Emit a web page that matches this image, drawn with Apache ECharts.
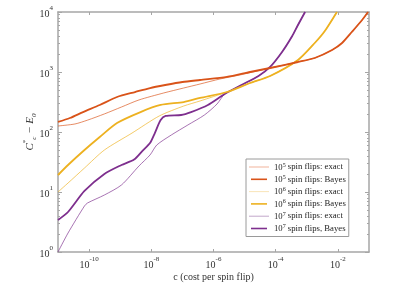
<!DOCTYPE html>
<html>
<head>
<meta charset="utf-8">
<script src="https://cdn.jsdelivr.net/npm/echarts@6/dist/echarts.min.js"></script>
<style>
  html, body { margin: 0; padding: 0; background: #fff; }
  #chart { width: 415px; height: 300px; }
</style>
</head>
<body>
<div id="chart"></div>
<script>
  // cost per spin flip (x) and C*_c - E0 (y)
  var red_bayes_x = [1e-11, 2.4e-11, 6.4e-11, 2.2e-10, 7.9e-10, 3.0e-9, 9.1e-9, 2.8e-8, 1.0e-7, 3.7e-7, 2.7e-6, 1.5e-5, 6.6e-5, 5.2e-4, 1.8e-3, 6.5e-3, 1.36e-2, 2.8e-2, 6.0e-2, 9.3e-2];
  var red_bayes_y = [147, 171, 215, 282, 383, 464, 541, 607, 681, 736, 826, 1000, 1166, 1468, 1711, 2326, 3043, 4642, 7356, 10000];
  var red_exact_x = [1e-11, 3.5e-11, 9.0e-11, 3.1e-10, 1.1e-9, 4.0e-9, 2.5e-8, 1.1e-7, 3.7e-7, 1.6e-6, 7.0e-6, 6.6e-5, 5.2e-4, 1.8e-3, 6.5e-3, 1.36e-2, 2.8e-2, 6.0e-2, 9.3e-2];
  var red_exact_y = [126, 136, 158, 200, 261, 342, 447, 541, 631, 764, 891, 1166, 1468, 1711, 2326, 3043, 4642, 7356, 10000];
  var yel_bayes_x = [1e-11, 2.1e-11, 7.1e-11, 2.2e-10, 7.9e-10, 4.5e-9, 2.0e-8, 1.1e-7, 3.7e-7, 2.7e-6, 1.5e-5, 6.6e-5, 5.2e-4, 1.8e-3, 3.8e-3, 9.3e-3];
  var yel_bayes_y = [19.2, 28.2, 50.1, 82.5, 141, 215, 282, 316, 369, 464, 656, 858, 1585, 3043, 4822, 10000];
  var yel_exact_x = [1e-11, 2.1e-11, 7.1e-11, 3.1e-10, 2.4e-9, 1.8e-8, 1.1e-7, 3.7e-7, 2.7e-6, 1.5e-5, 6.6e-5, 5.2e-4, 1.8e-3, 3.8e-3, 9.3e-3];
  var yel_exact_y = [10, 14.1, 25.1, 50.1, 96, 185, 271, 329, 464, 656, 858, 1585, 3043, 4822, 10000];
  var pur_bayes_x = [1e-11, 2.1e-11, 7.1e-11, 3.1e-10, 1.1e-9, 2.8e-9, 5.5e-9, 9.1e-9, 1.3e-8, 2.0e-8, 2.9e-8, 9.1e-8, 1.9e-7, 6.6e-7, 2.3e-6, 7.9e-6, 2.8e-5, 6.6e-5, 1.6e-4, 3.4e-4, 5.2e-4, 8.8e-4];
  var pur_bayes_y = [3.42, 4.64, 10.4, 20.0, 28.2, 34.8, 50.1, 65.6, 96.2, 158, 185, 192, 215, 282, 430, 607, 858, 1212, 2154, 3981, 6067, 10000];
  var pur_exact_x = [1e-11, 2.1e-11, 7.1e-11, 8.9e-11, 3.1e-10, 1.1e-9, 4.0e-9, 9.1e-9, 1.5e-8, 4.4e-8, 1.5e-7, 5.1e-7, 1.3e-6, 2.3e-6, 7.9e-6, 2.8e-5, 6.6e-5, 1.6e-4, 3.4e-4, 5.2e-4, 8.8e-4];
  var pur_exact_y = [1, 2.07, 5.85, 6.56, 8.91, 13.1, 27.1, 41.4, 60.7, 89.1, 131, 192, 293, 430, 607, 858, 1212, 2154, 3981, 6067, 10000];

  var x_ticks = [1e-10, 1e-8, 1e-6, 1e-4, 1e-2];
  var y_ticks = [1, 10, 100, 1000, 10000];
  var y_minor = [];
  for (var d = 1; d < 10000; d *= 10) {
    for (var k = 2; k < 10; k++) y_minor.push(k * d);
  }

  var series_names = ['10^5 exact', '10^5 Bayes', '10^6 exact', '10^6 Bayes', '10^7 exact', '10^7 Bayes'];
  var legend_text = {
    '10^5 exact': '{b|10}{s|5} spin flips: exact',
    '10^5 Bayes': '{b|10}{s|5} spin flips: Bayes',
    '10^6 exact': '{b|10}{s|6} spin flips: exact',
    '10^6 Bayes': '{b|10}{s|6} spin flips: Bayes',
    '10^7 exact': '{b|10}{s|7} spin flips: exact',
    '10^7 Bayes': '{b|10}{s|7} spin flips, Bayes'
  };

  var RED = '#D95319', YEL = '#EDB120', PUR = '#7E2F8E';
  var RED_L = '#EC9A78', YEL_L = '#F6DBA0', PUR_L = '#AE8AB8';
  var FONT = '"Liberation Serif", "DejaVu Serif", serif';
  var AXIS = '#a6a6a6';

  function zip(xs, ys) {
    return xs.map(function (x, i) { return [x, ys[i]]; });
  }
  function pow10(v) {
    var e = Math.round(Math.log10(v));
    return '{b|10}{s|' + e + '}';
  }
  var tickRich = {
    b: { fontFamily: FONT, fontSize: 10, color: '#333', verticalAlign: 'bottom', lineHeight: 14 },
    s: { fontFamily: FONT, fontSize: 7, color: '#333', verticalAlign: 'top', lineHeight: 14 }
  };

  function line(name, data, color, width, opacity, z) {
    return {
      name: name, type: 'line', data: data, showSymbol: false, symbol: 'none',
      smooth: 0.25,
      lineStyle: { color: color, width: width, opacity: opacity },
      itemStyle: { color: color, opacity: opacity },
      z: z, clip: true, animation: false
    };
  }
  function legendItem(name, color, h) {
    return { name: name, icon: 'path://M0,0H20V' + h + 'H0Z', itemStyle: { color: color } };
  }

  var chart = echarts.init(document.getElementById('chart'));
  var option = {
    animation: false,
    grid: { left: 58, right: 46, top: 12, bottom: 48 },
    legend: {
      data: [
        legendItem(series_names[0], RED_L, 1),
        legendItem(series_names[1], RED, 2),
        legendItem(series_names[2], YEL_L, 1),
        legendItem(series_names[3], YEL, 2),
        legendItem(series_names[4], PUR_L, 1),
        legendItem(series_names[5], PUR, 2)
      ],
      orient: 'vertical',
      left: 246, top: 159,
      itemWidth: 20, itemHeight: 1.6, itemGap: 2.3,
      padding: [3, 3, 3, 3],
      borderColor: '#9a9a9a', borderWidth: 1, backgroundColor: '#fff',
      formatter: function (n) { return legend_text[n]; },
      textStyle: {
        fontFamily: FONT, fontSize: 8.7, color: '#222',
        rich: {
          b: { fontFamily: FONT, fontSize: 8.7, color: '#222', verticalAlign: 'bottom', lineHeight: 10 },
          s: { fontFamily: FONT, fontSize: 6, color: '#222', verticalAlign: 'top', lineHeight: 10 }
        }
      }
    },
    xAxis: [{
      type: 'log', logBase: 10, min: 1e-11, max: 1e-1, position: 'bottom',
      name: 'c (cost per spin flip)', nameLocation: 'middle', nameGap: 20, nameMoveOverlap: false,
      nameTextStyle: { fontFamily: FONT, fontSize: 10, color: '#333', verticalAlign: 'top' },
      axisLine: { lineStyle: { color: AXIS, width: 1.5 } },
      axisTick: { inside: true, length: 3, customValues: x_ticks, lineStyle: { color: AXIS } },
      axisLabel: { customValues: x_ticks, formatter: pow10, rich: tickRich, margin: 4 },
      splitLine: { show: false }
    }, {
      type: 'log', logBase: 10, min: 1e-11, max: 1e-1, position: 'top',
      axisLine: { lineStyle: { color: AXIS, width: 1.5 } },
      axisTick: { inside: true, length: 3, customValues: x_ticks, lineStyle: { color: AXIS } },
      axisLabel: { show: false },
      splitLine: { show: false }
    }],
    yAxis: [{
      type: 'log', logBase: 10, min: 1, max: 1e4, position: 'left',
      name: '{i|C}{sp|*}{sb|c} {r|\u2212} {i|E}{sb|0}', nameLocation: 'middle', nameGap: 20, nameMoveOverlap: false,
      nameTextStyle: {
        rich: {
          i: { fontFamily: FONT, fontStyle: 'italic', fontSize: 11, color: '#333', verticalAlign: 'middle', lineHeight: 16 },
          r: { fontFamily: FONT, fontSize: 11, color: '#333', verticalAlign: 'middle', lineHeight: 16 },
          sp: { fontFamily: FONT, fontSize: 7, color: '#333', verticalAlign: 'top', lineHeight: 16 },
          sb: { fontFamily: FONT, fontStyle: 'italic', fontSize: 7, color: '#333', verticalAlign: 'bottom', lineHeight: 16 }
        }
      },
      axisLine: { lineStyle: { color: AXIS, width: 1.5 } },
      axisTick: { inside: true, length: 4, customValues: y_ticks, lineStyle: { color: AXIS } },
      axisLabel: { customValues: y_ticks, formatter: pow10, rich: tickRich, margin: 5 },
      splitLine: { show: false }
    }, {
      type: 'log', logBase: 10, min: 1, max: 1e4, position: 'left',
      axisLine: { show: false },
      axisTick: { inside: true, length: 2, customValues: y_minor, lineStyle: { color: AXIS } },
      axisLabel: { show: false },
      splitLine: { show: false }
    }, {
      type: 'log', logBase: 10, min: 1, max: 1e4, position: 'right',
      axisLine: { lineStyle: { color: AXIS, width: 1.5 } },
      axisTick: { inside: true, length: 4, customValues: y_ticks, lineStyle: { color: AXIS } },
      axisLabel: { show: false },
      splitLine: { show: false }
    }, {
      type: 'log', logBase: 10, min: 1, max: 1e4, position: 'right',
      axisLine: { show: false },
      axisTick: { inside: true, length: 2, customValues: y_minor, lineStyle: { color: AXIS } },
      axisLabel: { show: false },
      splitLine: { show: false }
    }],
    series: [
      line('10^5 exact', zip(red_exact_x, red_exact_y), RED, 0.9, 0.75, 2),
      line('10^5 Bayes', zip(red_bayes_x, red_bayes_y), RED, 1.8, 1, 5),
      line('10^6 exact', zip(yel_exact_x, yel_exact_y), YEL, 0.9, 0.75, 2),
      line('10^6 Bayes', zip(yel_bayes_x, yel_bayes_y), YEL, 1.8, 1, 4),
      line('10^7 exact', zip(pur_exact_x, pur_exact_y), PUR, 0.9, 0.75, 2),
      line('10^7 Bayes', zip(pur_bayes_x, pur_bayes_y), PUR, 1.8, 1, 3)
    ]
  };
  chart.setOption(option);
</script>
</body>
</html>
